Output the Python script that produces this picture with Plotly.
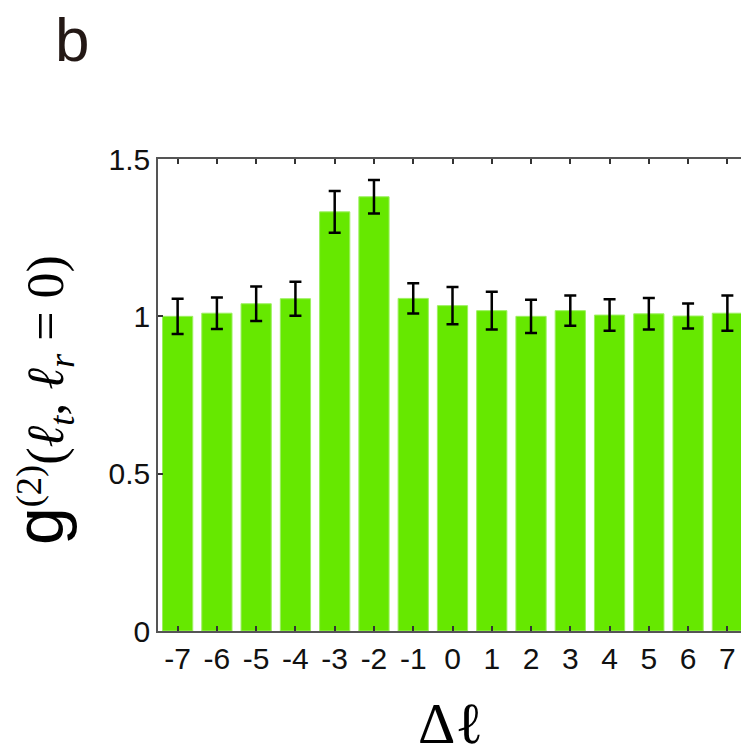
import plotly.graph_objects as go

delta_l = [-7, -6, -5, -4, -3, -2, -1, 0, 1, 2, 3, 4, 5, 6, 7]
g2_values = [1.00, 1.010, 1.040, 1.056, 1.332, 1.380, 1.057, 1.034, 1.018, 1.000, 1.018, 1.004, 1.008, 1.001, 1.010]
g2_errors = [0.056, 0.050, 0.055, 0.054, 0.066, 0.053, 0.048, 0.059, 0.060, 0.053, 0.048, 0.050, 0.050, 0.040, 0.056]
x_tick_labels = [str(v) for v in delta_l]
y_tick_vals = [0, 0.5, 1, 1.5]
y_tick_labels = ["0", "0.5", "1", "1.5"]

fig = go.Figure()
fig.add_trace(go.Bar(
    x=delta_l, y=g2_values,
    width=0.77,
    marker=dict(color="#66E800", line=dict(color="#9CF060", width=1)),
    error_y=dict(type="data", array=g2_errors, visible=True,
                 color="#000000", thickness=2.5, width=6),
    showlegend=False,
))

axis_common = dict(
    showline=True, linecolor="#555555", linewidth=1.5, mirror="ticks",
    ticks="inside", ticklen=5, tickcolor="#333333", tickwidth=1.5,
    showgrid=False, zeroline=False,
    tickfont=dict(family="Liberation Sans, Arial", size=30, color="#111111"),
)

fig.update_layout(
    width=741, height=741,
    margin=dict(l=150, r=0, t=151, b=118),
    plot_bgcolor="white", paper_bgcolor="white",
    xaxis=dict(range=[-7.5, 7.5], tickvals=delta_l, ticktext=x_tick_labels, **axis_common),
    yaxis=dict(range=[0, 1.5], tickvals=y_tick_vals, ticktext=y_tick_labels, **axis_common),
)

fig.add_annotation(
    text="b", xref="paper", yref="paper", x=-0.178, y=1.254,
    xanchor="left", yanchor="middle", showarrow=False,
    font=dict(family="Liberation Sans, Arial", size=62, color="#231815"),
)
fig.add_annotation(
    text="Δℓ",
    xref="paper", yref="paper", x=0.496, y=-0.196,
    xanchor="center", yanchor="middle", showarrow=False,
    font=dict(family="Liberation Serif, Times New Roman", size=58, color="#000000"),
)
fig.add_annotation(
    text="<span style='font-family:Liberation Sans;font-size:68px'>g</span><sup>(2)</sup>(<i>ℓ</i><sub><i>t</i></sub>, <i>ℓ</i><sub><i>r</i></sub> = 0)",
    xref="paper", yref="paper", x=-0.198, y=0.49,
    xanchor="center", yanchor="middle", showarrow=False, textangle=-90,
    font=dict(family="Liberation Serif, Times New Roman", size=52, color="#000000"),
)

fig.write_html("out.html")
